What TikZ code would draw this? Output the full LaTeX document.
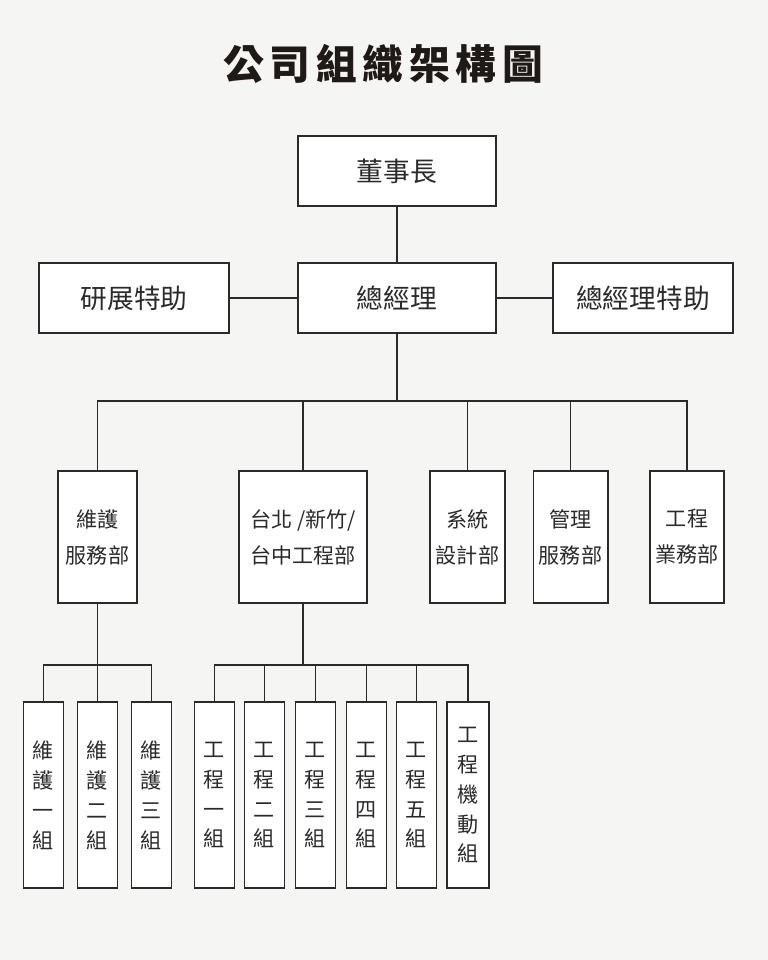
\documentclass[tikz,border=0pt]{standalone}
\usepackage{fontspec}
\setmainfont{Noto Sans CJK TC}
\newfontfamily\titlefont[LetterSpace=14]{Noto Sans CJK TC}
\definecolor{paper}{HTML}{F5F5F3}
\definecolor{ink}{HTML}{2A2A2A}
\definecolor{titleink}{HTML}{1F1A17}
\tikzset{unit/.style={draw=ink, fill=white, line width=1.4pt, inner sep=0pt, text=ink,
  font=\fontsize{19}{24}\selectfont}}
\tikzset{dept/.style={unit, align=center, minimum height=3.3cm,
  font=\fontsize{15}{25.6}\selectfont}}
\tikzset{team/.style={unit, align=center, minimum width=1cm, minimum height=4.65cm,
  font=\fontsize{15}{21.3}\selectfont}}
\tikzset{link/.style={draw=ink, line width=1.4pt}}

\begin{document}
\begin{tikzpicture}[x=0.025cm, y=-0.025cm]

    \fill[paper] (0,0) rectangle (768,960);
    \useasboundingbox (0,0) rectangle (768,960);

    \node[text=titleink, font=\titlefont\bfseries\fontsize{29}{32}\selectfont] (title) at (383,64) {公司組織架構圖};

    \node[unit, minimum width=4.95cm, minimum height=1.75cm] (ceo) at (397,171) {董事長};
    \node[unit, minimum width=4.95cm, minimum height=1.75cm] (gm) at (397,298) {總經理};
    \node[unit, minimum width=4.75cm, minimum height=1.75cm] (rd) at (134,298) {研展特助};
    \node[unit, minimum width=4.5cm, minimum height=1.75cm] (asst) at (643,298) {總經理特助};

    \draw[link] (ceo) -- (gm);
    \draw[link] (rd) -- (gm);
    \draw[link] (gm) -- (asst);


    \node[dept, minimum width=1.975cm] (maint) at (97.5,537) {維護\\服務部};
    \node[dept, minimum width=3.2cm] (eng) at (303,537) {台北 /新竹/\\台中工程部};
    \node[dept, minimum width=1.875cm] (sys) at (467.5,537) {系統\\設計部};
    \node[dept, minimum width=1.85cm] (admin) at (570.5,537) {管理\\服務部};
    \node[dept, minimum width=1.85cm] (biz) at (687,537) {工程\\業務部};

    \coordinate (hub) at (397,401);
    \draw[link] (gm) -- (hub);
    \draw[link] (maint.north) |- (hub) -| (biz.north);
    \foreach \d in {eng,sys,admin}
        \draw[link] (\d.north) -- (\d.north |- hub);


    \node[team] (m1) at (43.5,795) {維\\護\\一\\組};
    \node[team] (m2) at (97.5,795) {維\\護\\二\\組};
    \node[team] (m3) at (151.5,795) {維\\護\\三\\組};

    \node[team] (e1) at (214.5,795) {工\\程\\一\\組};
    \node[team] (e2) at (264.5,795) {工\\程\\二\\組};
    \node[team] (e3) at (315.5,795) {工\\程\\三\\組};
    \node[team] (e4) at (366.5,795) {工\\程\\四\\組};
    \node[team] (e5) at (416.5,795) {工\\程\\五\\組};
    \node[team, minimum width=1.05cm] (e6) at (468,795) {工\\程\\機\\動\\組};

    \draw[link] (maint.south) -- ++(0,61) coordinate (mhub);
    \draw[link] (m1.north) |- (mhub) -| (m3.north);
    \draw[link] (m2.north) -- (m2.north |- mhub);

    \draw[link] (eng.south) -- ++(0,61) coordinate (ehub);
    \draw[link] (e1.north) |- (ehub) -| (e6.north);
    \foreach \t in {e2,e3,e4,e5}
        \draw[link] (\t.north) -- (\t.north |- ehub);

\end{tikzpicture}
\end{document}
